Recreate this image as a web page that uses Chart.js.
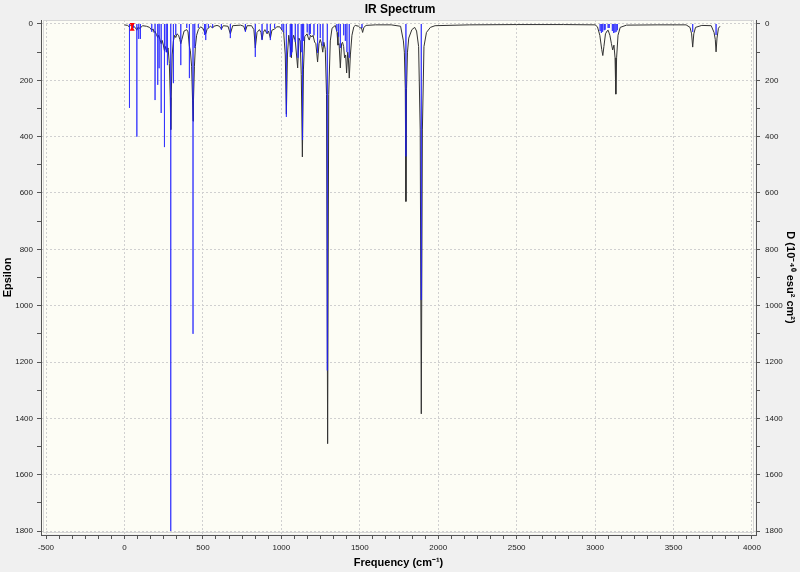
<!DOCTYPE html>
<html><head><meta charset="utf-8">
<script src="https://cdn.jsdelivr.net/npm/chart.js@4.4.1/dist/chart.umd.min.js"></script>
<style>html,body{margin:0;padding:0;background:#f0f0f0;}canvas{display:block;}</style>
</head><body>
<canvas id="c" width="800" height="572"></canvas>
<script>
// Broadened spectrum (Epsilon)
const curveFreq = [0,20,30,40,57,68,79,86,91,102,115,140,160,174,183,189,195,204,212,218,226,234,240,248,255,262,270,278,286,292,295,298,304,312,320,327,335,345,353,359,366,380,397,405,414,420,428,434,437,440,446,452,460,471,485,500,510,518,526,535,548,562,570,590,605,618,630,660,675,690,740,760,771,782,810,825,834,845,860,870,877,885,895,909,918,930,940,957,970,990,1004,1015,1025,1032,1039,1047,1057,1064,1070,1078,1089,1104,1112,1120,1127,1134,1141,1149,1164,1172,1178,1186,1195,1202,1212,1220,1231,1240,1248,1256,1264,1271,1280,1288,1295,1302,1312,1323,1344,1355,1361,1368,1376,1384,1390,1397,1403,1410,1416,1423,1427,1433,1440,1450,1462,1471,1492,1503,1510,1518,1526,1540,1600,1700,1760,1778,1784,1790,1794,1798,1804,1812,1832,1850,1862,1875,1885,1892,1899,1909,1925,1950,1980,2200,2500,2800,3000,3015,3030,3042,3049,3056,3066,3076,3083,3094,3104,3112,3120,3127,3132,3137,3146,3160,3200,3400,3580,3605,3615,3622,3629,3640,3680,3740,3758,3766,3771,3777,3786,3796];
const curveEps  = [3,5,10,5,8,12,22,12,15,14,6,8,12,22,18,30,26,38,48,40,55,70,58,75,95,80,100,85,140,260,375,260,110,60,40,48,35,40,55,70,55,25,20,28,80,95,150,270,345,270,150,80,40,20,10,15,28,35,20,14,8,14,8,5,8,18,6,8,35,6,4,8,25,6,6,20,85,30,20,30,55,30,20,35,25,50,22,18,10,10,22,30,110,320,110,40,80,120,60,40,60,156,50,60,180,472,160,45,35,50,57,40,46,40,64,70,135,70,55,70,100,65,90,250,1490,250,60,15,5,30,75,70,156,70,65,80,120,110,174,100,120,192,110,40,10,5,8,14,12,30,12,5,3,3,8,60,100,230,630,230,100,50,20,12,25,80,376,1384,376,80,30,12,6,3,2,2,3,10,40,90,112,80,35,25,22,40,70,92,75,120,249,120,40,12,4,3,3,12,35,82,35,12,5,6,30,55,99,50,15,8];

// Stick spectrum (D, 10^-40 esu^2 cm^2)
const stickFreq = [32,57,79,91,102,174,195,212,221,234,255,266,274,295,312,327,359,397,414,437,448,471,510,518,535,562,618,675,771,834,877,909,930,957,1004,1015,1032,1057,1064,1068,1089,1106,1127,1135,1142,1165,1178,1185,1208,1231,1248,1265,1293,1354,1365,1376,1397,1408,1418,1433,1514,1794,1892,3032,3040,3048,3058,3064,3083,3090,3110,3118,3126,3134,3142,3622,3771];
const stickD    = [298,14,400,53,53,28,270,216,157,316,437,100,146,1800,210,39,146,14,192,1100,85,14,39,57,14,14,21,50,28,117,57,32,57,14,21,30,330,117,110,100,64,120,100,412,60,30,40,35,40,103,50,78,1230,25,45,85,40,60,100,120,14,470,980,25,32,28,22,20,14,14,25,32,30,28,22,28,39];

// Cursor marker
const markerFreq = [49, 49];
const markerEps  = [2, 19];

// Axis tick labels
const xTickLabels = [-500,0,500,1000,1500,2000,2500,3000,3500,4000];
const xMinorPerMajor = 6;
const yTickLabels = [0,200,400,600,800,1000,1200,1400,1600,1800];
const yMinorPerMajor = 2;

const curveData = curveFreq.map((f,i)=>({x:f,y:curveEps[i]}));
const stickData = [];
stickFreq.forEach((f,i)=>{ stickData.push({x:f,y:0},{x:f,y:stickD[i]},{x:f,y:null}); });
const markerData = markerFreq.map((f,i)=>({x:f,y:markerEps[i]}));

function buildTicks(labels, per){
  const out=[];
  for(let i=0;i<labels.length-1;i++){
    const a=labels[i], b=labels[i+1];
    for(let k=0;k<per;k++) out.push({value:a+(b-a)*k/per, major:k===0});
  }
  out.push({value:labels[labels.length-1], major:true});
  return out;
}
const isOnList=(v,list)=>list.some(l=>Math.abs(l-v)<1e-6);

const FONT='"Liberation Sans", Arial, sans-serif';
const tickFont={family:FONT,size:8};
const titleFont={family:FONT,size:11,weight:'bold'};
const gridColorX=ctx=> (ctx.tick && isOnList(ctx.tick.value,xTickLabels)) ? '#d0d0d0' : 'rgba(0,0,0,0)';
const gridColorY=ctx=> (ctx.tick && isOnList(ctx.tick.value,yTickLabels)) ? '#d0d0d0' : 'rgba(0,0,0,0)';

const plotBg={id:'plotBg',beforeDraw(chart){
  const {ctx,chartArea:a}=chart;
  ctx.save();
  ctx.fillStyle='#fdfdf5';
  ctx.fillRect(a.left+1,a.top,a.right-a.left-2,a.bottom-a.top-1);
  ctx.strokeStyle='#d6d6d6';ctx.lineWidth=1;
  ctx.strokeRect(a.left+2.5,a.top+0.5,a.right-a.left-5,a.bottom-a.top-3);
  ctx.restore();
}};

new Chart(document.getElementById('c'),{
  type:'line',
  data:{datasets:[
    {label:'marker',data:markerData,xAxisID:'x',yAxisID:'y',borderColor:'#ff0000',borderWidth:1,
     pointStyle:'triangle',pointRadius:3,pointRotation:[180,0],pointBackgroundColor:'#ff0000',pointBorderColor:'#ff0000',pointBorderWidth:0,order:0},
    {label:'sticks',data:stickData,xAxisID:'x',yAxisID:'y2',borderColor:'rgba(30,30,255,0.55)',borderWidth:1,pointRadius:0,spanGaps:false,order:1},
    {label:'curve',data:curveData,xAxisID:'x',yAxisID:'y',borderColor:'#333333',borderWidth:1,pointRadius:0,tension:0,order:2}
  ]},
  options:{
    responsive:false,animation:false,devicePixelRatio:1,
    layout:{padding:0},
    plugins:{
      legend:{display:false},tooltip:{enabled:false},
      title:{display:true,text:'IR Spectrum',color:'#000',font:{family:FONT,size:12,weight:'bold'},padding:{top:2,bottom:3.6}}
    },
    scales:{
      x:{type:'linear',position:'bottom',min:-532,max:4025.5,
        afterBuildTicks:s=>{s.ticks=buildTicks(xTickLabels,xMinorPerMajor);},
        afterFit:s=>{s.height=37;},
        ticks:{autoSkip:false,maxRotation:0,padding:4,color:'#222',font:tickFont,
          callback:v=>isOnList(v,xTickLabels)?String(Math.round(v)):''},
        grid:{color:gridColorX,tickColor:'#555',tickLength:4,lineWidth:1},
        border:{display:true,color:'#555',width:1,dash:[2,2]},
        title:{display:true,text:'Frequency (cm\u207B\u00B9)',color:'#000',font:titleFont,padding:{top:0,bottom:2.4}}
      },
      y:{type:'linear',position:'left',reverse:true,min:-14.2,max:1814.2,
        afterBuildTicks:s=>{s.ticks=buildTicks(yTickLabels,yMinorPerMajor);},
        afterFit:s=>{s.width=41;},
        ticks:{autoSkip:false,padding:4,color:'#222',font:tickFont,
          callback:v=>isOnList(v,yTickLabels)?String(Math.round(v)):''},
        grid:{color:gridColorY,tickColor:'#555',tickLength:4,lineWidth:1},
        border:{display:true,color:'#555',width:1,dash:[2,2]},
        title:{display:true,text:'Epsilon',color:'#000',font:titleFont,padding:{top:1.4,bottom:0}}
      },
      y2:{type:'linear',position:'right',reverse:true,min:-14.2,max:1814.2,
        afterBuildTicks:s=>{s.ticks=buildTicks(yTickLabels,yMinorPerMajor);},
        afterFit:s=>{s.width=44;},
        ticks:{autoSkip:false,padding:5,color:'#222',font:tickFont,
          callback:v=>isOnList(v,yTickLabels)?String(Math.round(v)):''},
        grid:{drawOnChartArea:false,tickColor:'#555',tickLength:4},
        border:{display:true,color:'#555',width:1},
        title:{display:true,text:'D (10\u207B\u2074\u2070 esu\u00B2 cm\u00B2)',color:'#000',font:titleFont,padding:{top:3.4,bottom:0}}
      }
    }
  },
  plugins:[plotBg]
});
</script>
</body></html>
